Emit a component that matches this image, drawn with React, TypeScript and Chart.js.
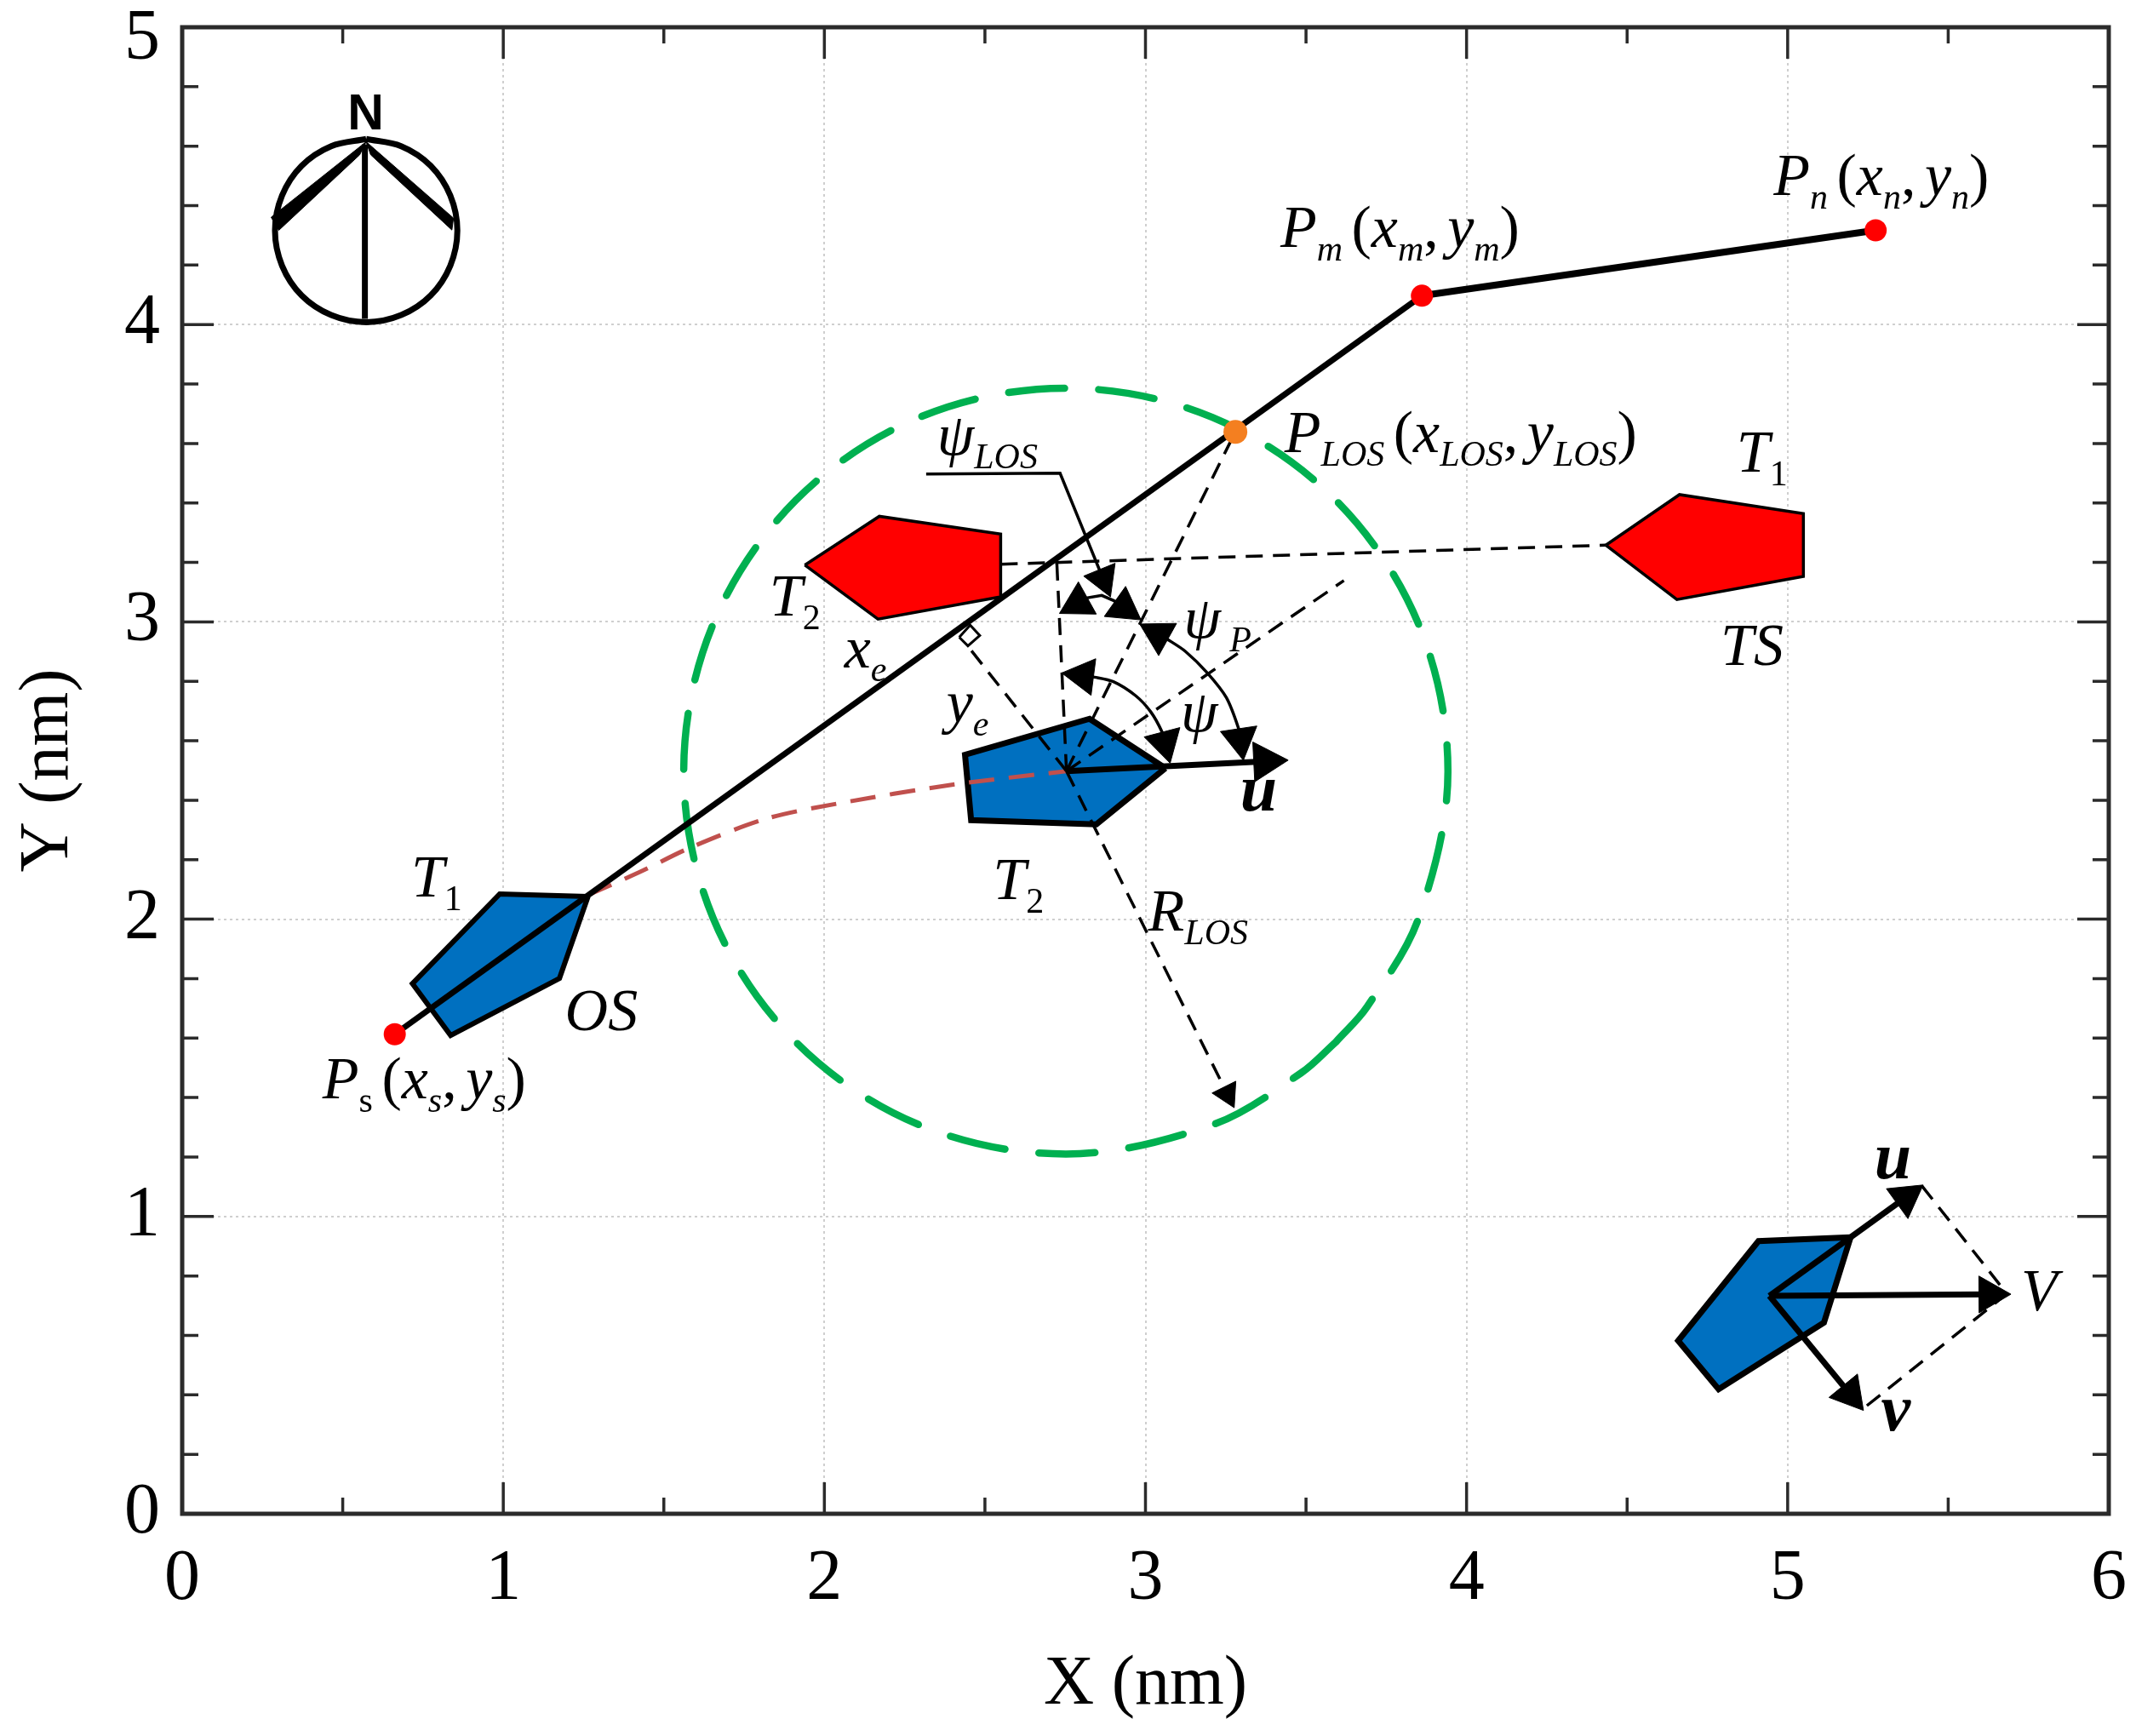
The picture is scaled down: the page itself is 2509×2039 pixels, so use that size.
import React, { useEffect, useRef } from 'react';
import { Chart, registerables } from 'chart.js';

Chart.register(...registerables);

type Pair = [number, number];

const xTicks = [0, 1, 2, 3, 4, 5, 6];
const yTicks = [0, 1, 2, 3, 4, 5];
const xMinorTicks = [0.5, 1.5, 2.5, 3.5, 4.5, 5.5];
const yMinorTicks = [0.2, 0.4, 0.6, 0.8, 1.2, 1.4, 1.6, 1.8, 2.2, 2.4, 2.6, 2.8, 3.2, 3.4, 3.6, 3.8, 4.2, 4.4, 4.6, 4.8];

// waypoints and the LOS point
const pathFirst: Pair[] = [[0.662, 1.613], [3.861, 4.097]];
const pathSecond: Pair[] = [[3.861, 4.097], [5.274, 4.317]];
const waypoints: Pair[] = [[0.662, 1.613], [3.861, 4.097], [5.274, 4.317]];
const losPoint: Pair[] = [[3.28, 3.639]];

const losCircle: Pair[] = [[3.593, 1.587], [3.69, 1.705], [3.851, 2.005], [3.942, 2.498], [3.851, 2.991], [3.593, 3.409], [3.208, 3.688], [2.752, 3.786], [2.296, 3.688], [1.911, 3.409], [1.653, 2.991], [1.562, 2.498], [1.653, 2.005], [1.911, 1.587], [2.296, 1.308], [2.752, 1.21], [3.208, 1.308], [3.485, 1.483], [3.593, 1.587]];
const trackCurve: Pair[] = [[1.264, 2.081], [1.426, 2.159], [1.583, 2.241], [1.816, 2.337], [2.037, 2.388], [2.397, 2.452], [2.754, 2.498]];

// ship outlines
const osStart: Pair[] = [[1.264, 2.076], [0.989, 2.085], [0.717, 1.783], [0.836, 1.609], [1.175, 1.801], [1.264, 2.076]];
const osNow: Pair[] = [[3.062, 2.508], [2.826, 2.674], [2.438, 2.553], [2.457, 2.333], [2.847, 2.319], [3.062, 2.508]];
const osVector: Pair[] = [[5.196, 0.93], [4.909, 0.917], [4.659, 0.582], [4.785, 0.419], [5.113, 0.643], [5.196, 0.93]];
const tsFirst: Pair[] = [[4.434, 3.258], [4.663, 3.428], [5.049, 3.364], [5.049, 3.153], [4.655, 3.075], [4.434, 3.258]];
const tsSecond: Pair[] = [[1.939, 3.191], [2.171, 3.355], [2.549, 3.295], [2.549, 3.084], [2.167, 3.009], [1.939, 3.191]];

// dashed construction lines
const tsTrack: Pair[] = [[2.549, 3.194], [4.434, 3.258]];
const toLos: Pair[] = [[2.754, 2.498], [3.28, 3.639]];
const toNorth: Pair[] = [[2.754, 2.498], [2.724, 3.197]];
const toHeading: Pair[] = [[2.754, 2.498], [3.618, 3.139]];
const toPath: Pair[] = [[2.754, 2.498], [2.452, 2.911]];
const rightAngle: Pair[] = [[2.42, 2.948], [2.454, 2.989], [2.484, 2.954], [2.447, 2.919], [2.42, 2.948]];
const uvBox: Pair[] = [[5.418, 1.103], [5.683, 0.74], [5.232, 0.351]];

// arrows, last point is the centre of the head
const radiusArrow: Pair[] = [[2.754, 2.498], [3.255, 1.412]];
const surgeArrow: Pair[] = [[2.754, 2.498], [3.373, 2.531]];
const losLeader: Pair[] = [[2.317, 3.497], [2.734, 3.5], [2.868, 3.145]];
const uArrow: Pair[] = [[4.943, 0.733], [5.368, 1.064]];
const bigVArrow: Pair[] = [[4.943, 0.733], [5.629, 0.738]];
const vArrow: Pair[] = [[4.943, 0.733], [5.194, 0.403]];

// angle arcs with a head at both ends
const arcLos: Pair[] = [[2.79, 3.063], [2.82, 3.081], [2.864, 3.089], [2.902, 3.071], [2.932, 3.048]];
const arcPsi: Pair[] = [[2.805, 2.819], [2.841, 2.814], [2.9, 2.799], [2.969, 2.752], [3.016, 2.698], [3.051, 2.631], [3.06, 2.594]];
const arcPsiP: Pair[] = [[3.04, 2.958], [3.07, 2.94], [3.124, 2.901], [3.192, 2.829], [3.252, 2.745], [3.29, 2.641], [3.295, 2.605]];

// north symbol, ring starts under the barbs at the top
const compassRing: Pair[] = [[0.573, 4.624], [0.464, 4.6], [0.372, 4.534], [0.311, 4.434], [0.289, 4.316], [0.311, 4.198], [0.372, 4.098], [0.464, 4.032], [0.573, 4.008], [0.682, 4.032], [0.774, 4.098], [0.835, 4.198], [0.857, 4.316], [0.835, 4.434], [0.774, 4.534], [0.682, 4.6], [0.573, 4.624]];
const compassStem: Pair[] = [[0.569, 4.606], [0.569, 4.019]];
const compassLeft: Pair[] = [[0.573, 4.615], [0.277, 4.361], [0.301, 4.317], [0.553, 4.571], [0.573, 4.615]];
const compassRight: Pair[] = [[0.573, 4.615], [0.845, 4.358], [0.84, 4.318], [0.587, 4.571], [0.573, 4.615]];

// i italic, r regular, I small italic, R small regular, b bold italic, n sans bold
type Run = [string, string];
type Label = { x: number; y: number; runs: Run[] };
const labels: Label[] = [
  { x: 4.956, y: 4.436, runs: [['P', 'i'], ['n', 'I'], [' ', 'I'], ['(', 'r'], ['x', 'i'], ['n', 'I'], [',', 'r'], [' ', 'I'], ['y', 'i'], ['n', 'I'], [')', 'r']] },
  { x: 3.42, y: 4.262, runs: [['P', 'i'], ['m', 'I'], [' ', 'I'], ['(', 'r'], ['x', 'i'], ['m', 'I'], [',', 'r'], [' ', 'I'], ['y', 'i'], ['m', 'I'], [')', 'r']] },
  { x: 3.433, y: 3.57, runs: [['P', 'i'], ['LOS', 'I'], [' ', 'I'], ['(', 'r'], ['x', 'i'], ['LOS', 'I'], [',', 'r'], [' ', 'I'], ['y', 'i'], ['LOS', 'I'], [')', 'r']] },
  { x: 0.437, y: 1.398, runs: [['P', 'i'], ['s', 'R'], [' ', 'I'], ['(', 'r'], ['x', 'i'], ['s', 'I'], [',', 'r'], [' ', 'I'], ['y', 'i'], ['s', 'I'], [')', 'r']] },
  { x: 4.841, y: 3.506, runs: [['T', 'i'], ['1', 'R']] },
  { x: 4.791, y: 2.855, runs: [['TS', 'i']] },
  { x: 1.829, y: 3.02, runs: [['T', 'i'], ['2', 'R']] },
  { x: 2.525, y: 2.067, runs: [['T', 'i'], ['2', 'R']] },
  { x: 0.713, y: 2.076, runs: [['T', 'i'], ['1', 'R']] },
  { x: 1.192, y: 1.627, runs: [['OS', 'i']] },
  { x: 2.062, y: 2.846, runs: [['x', 'i'], ['e', 'I']] },
  { x: 2.38, y: 2.663, runs: [['y', 'i'], ['e', 'I']] },
  { x: 2.351, y: 3.561, runs: [['ψ', 'i'], ['LOS', 'I']] },
  { x: 3.119, y: 2.947, runs: [['ψ', 'i'], [' ', 'I'], ['P', 'I']] },
  { x: 3.11, y: 2.631, runs: [['ψ', 'i']] },
  { x: 3.295, y: 2.365, runs: [['u', 'b']] },
  { x: 3.008, y: 1.961, runs: [['R', 'i'], ['LOS', 'I']] },
  { x: 5.27, y: 1.127, runs: [['u', 'b']] },
  { x: 5.291, y: 0.28, runs: [['v', 'b']] },
  { x: 5.727, y: 0.683, runs: [['V', 'i']] },
  { x: 0.515, y: 4.656, runs: [['N', 'n']] },
];

const serif = '"Liberation Serif", serif';
const runFonts: Record<string, string> = {
  i: `italic 70px ${serif}`,
  r: `70px ${serif}`,
  I: `italic 42px ${serif}`,
  R: `42px ${serif}`,
  b: `italic bold 78px ${serif}`,
  n: 'bold 59px "Liberation Sans", sans-serif',
};

const toXY = (list: Pair[]) => list.map(([x, y]) => ({ x, y }));

const line = (list: Pair[], color: string, width: number, extra: any = {}) => ({
  data: toXY(list),
  showLine: true,
  borderColor: color,
  borderWidth: width,
  pointRadius: 0,
  tension: 0,
  ...extra,
});

const dashed = (list: Pair[]) => line(list, '#000', 3.5, { borderDash: [20, 12] });

const ship = (list: Pair[], color: string, width: number) =>
  line(list, '#000', width, { polyFill: color, borderJoinStyle: 'miter' });

// head sits on the last point, or on both ends; it turns with the segment next to it
const arrow = (list: Pair[], width: number, size: number, both = false, extra: any = {}) =>
  line(list, '#000', width, {
    pointStyle: 'triangle',
    pointBackgroundColor: '#000',
    pointBorderColor: '#000',
    pointBorderWidth: 1,
    pointRadius: (ctx: any) => {
      const last = ctx.dataset.data.length - 1;
      return ctx.dataIndex === last || (both && ctx.dataIndex === 0) ? size : 0;
    },
    pointRotation: (ctx: any) => {
      const pts = ctx.dataset.data;
      const i = ctx.dataIndex;
      const from = i === 0 ? pts[1] : pts[i - 1];
      const { x: sx, y: sy } = ctx.chart.scales;
      const dx = sx.getPixelForValue(pts[i].x) - sx.getPixelForValue(from.x);
      const dy = sy.getPixelForValue(pts[i].y) - sy.getPixelForValue(from.y);
      return (Math.atan2(dx, -dy) * 180) / Math.PI;
    },
    ...extra,
  });

const shipFillPlugin = {
  id: 'shipFill',
  beforeDatasetDraw(chart: any, args: any) {
    const color = chart.data.datasets[args.index].polyFill;
    if (!color) return;
    const { ctx } = chart;
    ctx.save();
    ctx.fillStyle = color;
    ctx.beginPath();
    args.meta.data.forEach((p: any, i: number) => (i ? ctx.lineTo(p.x, p.y) : ctx.moveTo(p.x, p.y)));
    ctx.closePath();
    ctx.fill();
    ctx.restore();
  },
};

// frame and inward ticks on all four sides
const framePlugin = {
  id: 'frame',
  afterDatasetsDraw(chart: any) {
    const { ctx, chartArea: a, scales } = chart;
    ctx.save();
    ctx.strokeStyle = '#2b2b2b';
    ctx.lineWidth = 3.5;
    const vTick = (v: number, len: number) => {
      const px = scales.x.getPixelForValue(v);
      ctx.beginPath();
      ctx.moveTo(px, a.bottom);
      ctx.lineTo(px, a.bottom - len);
      ctx.moveTo(px, a.top);
      ctx.lineTo(px, a.top + len);
      ctx.stroke();
    };
    const hTick = (v: number, len: number) => {
      const py = scales.y.getPixelForValue(v);
      ctx.beginPath();
      ctx.moveTo(a.left, py);
      ctx.lineTo(a.left + len, py);
      ctx.moveTo(a.right, py);
      ctx.lineTo(a.right - len, py);
      ctx.stroke();
    };
    xTicks.forEach((v) => vTick(v, 37));
    xMinorTicks.forEach((v) => vTick(v, 19));
    yTicks.forEach((v) => hTick(v, 37));
    yMinorTicks.forEach((v) => hTick(v, 19));
    ctx.lineWidth = 5;
    ctx.strokeRect(a.left, a.top, a.right - a.left, a.bottom - a.top);
    ctx.restore();
  },
};

const labelPlugin = {
  id: 'mathLabels',
  afterDatasetsDraw(chart: any) {
    const { ctx, scales } = chart;
    ctx.save();
    ctx.fillStyle = '#000';
    ctx.textBaseline = 'alphabetic';
    labels.forEach(({ x, y, runs }) => {
      let px = scales.x.getPixelForValue(x);
      const py = scales.y.getPixelForValue(y);
      runs.forEach(([text, style]) => {
        ctx.font = runFonts[style];
        const sub = style === 'I' || style === 'R';
        ctx.fillText(text, px, py + (sub ? 16 : 0));
        px += ctx.measureText(text).width;
      });
    });
    ctx.restore();
  },
};

// keep the plot box where it is, whatever the tick labels measure
const noLabelMargins = (scale: any) => {
  scale.paddingTop = 0;
  scale.paddingBottom = 0;
  scale.paddingLeft = 0;
  scale.paddingRight = 0;
};

const App: React.FC = () => {
  const canvasRef = useRef<HTMLCanvasElement>(null);

  useEffect(() => {
    if (!canvasRef.current) return;

    // listed in paint order, Chart.js paints the first dataset last
    const datasets: any[] = [
      line(losCircle, '#00B050', 8.5, { borderDash: [66, 40], borderCapStyle: 'round', tension: 0.34 }),
      ship(tsFirst, '#FF0000', 3.5),
      ship(tsSecond, '#FF0000', 3.5),
      ship(osStart, '#0070C0', 6),
      ship(osNow, '#0070C0', 7),
      ship(osVector, '#0070C0', 7),
      line(trackCurve, '#C0504D', 5, { borderDash: [30, 17], tension: 0.3 }),
      dashed(tsTrack),
      dashed(toLos),
      dashed(toNorth),
      dashed(toHeading),
      dashed(toPath),
      dashed(uvBox),
      arrow(radiusArrow, 3.5, 18, false, { borderDash: [20, 12] }),
      line(rightAngle, '#000', 3, { polyFill: '#fff' }),
      line(pathFirst, '#000', 7),
      line(pathSecond, '#000', 8),
      arrow(surgeArrow, 7, 27),
      arrow(losLeader, 3.5, 23),
      arrow(uArrow, 7, 25),
      arrow(bigVArrow, 7, 25),
      arrow(vArrow, 7, 25),
      arrow(arcLos, 3.5, 25, true),
      arrow(arcPsi, 3.5, 25, true, { tension: 0.3 }),
      arrow(arcPsiP, 3.5, 25, true, { tension: 0.3 }),
      line(compassRing, '#000', 7, { tension: 0.34 }),
      line(compassStem, '#000', 7),
      line(compassLeft, '#000', 1, { polyFill: '#000' }),
      line(compassRight, '#000', 1, { polyFill: '#000' }),
      line([], '#000', 0, {
        data: toXY(waypoints),
        showLine: false,
        pointRadius: 13,
        pointBackgroundColor: '#FF0000',
        pointBorderWidth: 0,
      }),
      line([], '#000', 0, {
        data: toXY(losPoint),
        showLine: false,
        pointRadius: 14,
        pointBackgroundColor: '#F47F20',
        pointBorderWidth: 0,
      }),
    ];

    const tickFont = { family: serif, size: 84 };
    const titleFont = { family: serif, size: 82 };
    const gridStyle = { color: '#cfcfcf', lineWidth: 2, drawTicks: false };
    const borderStyle = { display: false, dash: [3, 4] };

    const chart = new Chart(canvasRef.current, {
      type: 'scatter',
      data: { datasets: datasets.reverse() },
      plugins: [shipFillPlugin, framePlugin, labelPlugin],
      options: {
        responsive: false,
        animation: false,
        devicePixelRatio: 1,
        events: [],
        layout: { padding: { top: 32, right: 32, left: 0, bottom: 0 } },
        plugins: { legend: { display: false }, tooltip: { enabled: false } },
        scales: {
          x: {
            type: 'linear',
            min: 0,
            max: 6,
            afterFit: (scale: any) => { scale.height = 261; noLabelMargins(scale); },
            afterBuildTicks: (scale: any) => { scale.ticks = xTicks.map((value) => ({ value })); },
            grid: gridStyle,
            border: borderStyle,
            ticks: { font: tickFont, color: '#000', padding: 28, maxRotation: 0, autoSkip: false },
            title: { display: true, text: 'X (nm)', font: titleFont, color: '#000', padding: { top: 0, bottom: 10 } },
          },
          y: {
            type: 'linear',
            min: 0,
            max: 5,
            afterFit: (scale: any) => { scale.width = 214; noLabelMargins(scale); },
            afterBuildTicks: (scale: any) => { scale.ticks = yTicks.map((value) => ({ value })); },
            grid: gridStyle,
            border: borderStyle,
            ticks: {
              // the top label sits a little below its tick in the reference
              callback: (value: any) => (value === 5 ? ['', '5'] : String(value)),
              font: (ctx: any) => (ctx.tick && ctx.tick.value === 5 ? { ...tickFont, lineHeight: 30 / 84 } : tickFont),
              color: '#000',
              padding: 26,
              autoSkip: false,
            },
            title: { display: true, text: 'Y (nm)', font: titleFont, color: '#000', padding: { top: 8, bottom: 0 } },
          },
        },
      },
    } as any);

    return () => {
      chart.destroy();
    };
  }, []);

  return (
    <div style={{ position: 'absolute', left: 0, top: 0, width: 2509, height: 2039 }}>
      <canvas ref={canvasRef} width={2509} height={2039} style={{ display: 'block' }} />
    </div>
  );
};

export default App;
